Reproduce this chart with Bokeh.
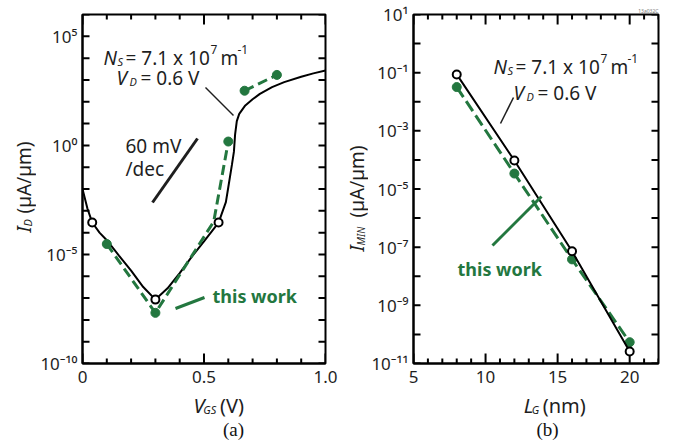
import math

from bokeh.core.properties import value
from bokeh.embed import file_html
from bokeh.layouts import column, row
from bokeh.models import CustomJSTickFormatter, FixedTicker, Label, Range1d
from bokeh.plotting import figure
from bokeh.resources import INLINE

# ---------------------------------------------------------------- data (a)
# simulated transfer curve I_D(V_GS), N_S = 7.1e7 1/m, V_D = 0.6 V
vgs_sim = [0.0, 0.02, 0.04, 0.07, 0.10, 0.15, 0.20, 0.25, 0.30, 0.35, 0.40,
           0.45, 0.50, 0.56, 0.59, 0.60, 0.615, 0.623, 0.628, 0.635, 0.645,
           0.67, 0.70, 0.73, 0.78, 0.83, 0.90, 0.95, 1.00]
id_sim = [1.0e-2, 1.3e-3, 2.9e-4, 1.0e-4, 4.5e-5, 8.9e-6, 1.8e-6, 3.2e-7,
          8.5e-8, 2.8e-7, 1.4e-6, 7.9e-6, 4.0e-5, 2.9e-4, 2.5e-3, 1.2e-2,
          1.3e-1, 5.0e-1, 3.2e0, 1.3e1, 2.8e1, 6.8e1, 1.3e2, 2.3e2, 4.7e2,
          7.9e2, 1.4e3, 2.0e3, 2.7e3]
# marked points on the simulated curve
vgs_sim_pts = [0.04, 0.30, 0.56]
id_sim_pts = [2.9e-4, 8.5e-8, 2.9e-4]
# this work: sub-threshold branch and on-state branch
vgs_work_low = [0.10, 0.30, 0.54, 0.60]
id_work_low = [3.0e-5, 2.1e-8, 3.2e-4, 1.5e0]
vgs_work_high = [0.667, 0.80]
id_work_high = [3.2e2, 1.7e3]
vgs_work_pts = [0.10, 0.30, 0.60, 0.667, 0.80]
id_work_pts = [3.0e-5, 2.1e-8, 1.5e0, 3.2e2, 1.7e3]

a_x_ticks = [0.0, 0.5, 1.0]
a_x_tick_labels = ["0", "0.5", "1.0"]
a_x_minor = [0.1, 0.2, 0.3, 0.4, 0.6, 0.7, 0.8, 0.9]
a_y_decades = list(range(-10, 7))
a_y_labelled = [-10, -5, 0, 5]

# ---------------------------------------------------------------- data (b)
lg_nm = [8, 12, 16, 20]
imin_sim = [8.7e-2, 9.5e-5, 7.2e-8, 2.6e-11]
imin_work = [3.2e-2, 3.4e-5, 3.8e-8, 5.4e-11]

b_x_ticks = [5, 10, 15, 20]
b_x_minor = [6, 7, 8, 9, 11, 12, 13, 14, 16, 17, 18, 19, 21, 22]
b_y_decades = list(range(-11, 2))
b_y_labelled = [-11, -9, -7, -5, -3, -1, 1]

GREEN = "#23773f"
INK = "#1e1e1e"
FONT = "Noto Sans"
SERIF = "Liberation Serif"

SUP_JS = """
const e = Math.round(Math.log10(tick));
if (!shown.includes(e)) { return ""; }
const sup = {"-": "\\u207b", "0": "\\u2070", "1": "\\u00b9", "2": "\\u00b2",
             "3": "\\u00b3", "4": "\\u2074", "5": "\\u2075", "6": "\\u2076",
             "7": "\\u2077", "8": "\\u2078", "9": "\\u2079"};
return "10" + String(e).split("").map(c => sup[c]).join("");
"""


def make_panel(width, height, x_range, y_range, left, right):
    p = figure(width=width, height=height, x_range=x_range, y_range=y_range,
               y_axis_type="log", output_backend="svg", toolbar_location=None,
               min_border_left=left, min_border_right=right,
               min_border_top=14, min_border_bottom=height - 363)
    p.grid.visible = False
    p.outline_line_color = "black"
    p.outline_line_width = 2
    for ax in (p.xaxis[0], p.yaxis[0]):
        ax.axis_line_color = "black"
        ax.axis_line_width = 2
        ax.major_tick_in = 0
        ax.major_tick_out = 0
        ax.minor_tick_in = 0
        ax.minor_tick_out = 0
        ax.major_label_text_font = FONT
        ax.major_label_text_font_size = "17px"
        ax.major_label_text_color = INK
    p.xaxis.major_label_standoff = 7
    p.yaxis.major_label_standoff = 5
    return p


def frame_ticks(p, xs, x_lo, x_hi, ys, y_lo, y_hi, length):
    # inward tick marks on all four sides of the frame
    n, m = len(xs), len(ys)
    kw = dict(length_units="screen", line_color="black", line_width=2)
    p.ray(x=xs, y=[y_lo] * n, length=length, angle=math.pi / 2, **kw)
    p.ray(x=xs, y=[y_hi] * n, length=length, angle=-math.pi / 2, **kw)
    p.ray(x=[x_lo] * m, y=ys, length=7, angle=0.0, **kw)
    p.ray(x=[x_hi] * m, y=ys, length=7, angle=math.pi, **kw)


def converter(x0px, x1px, xlo, xhi, y0px, y1px, dlo, dhi):
    # canvas position -> this panel's data coordinates
    def conv(px, py):
        x = xlo + (px - x0px) * (xhi - xlo) / (x1px - x0px)
        d = dlo + (y1px - py) * (dhi - dlo) / (y1px - y0px)
        return x, 10.0 ** d
    return conv


def put(p, conv, px, py, text, size=19, style="normal", color=INK,
        font=FONT, align="left"):
    x, y = conv(px, py)
    p.add_layout(Label(x=x, y=y, text=text, text_font=font,
                       text_font_size=f"{size}px", text_font_style=style,
                       text_color=color, text_align=align,
                       text_baseline="alphabetic"))


def stroke(p, conv, a, b, color=INK, width=1.5):
    (x0, y0), (x1, y1) = conv(*a), conv(*b)
    p.segment(x0=[x0], y0=[y0], x1=[x1], y1=[y1], line_color=color,
              line_width=width, line_cap="butt")


def text_strip(width, height):
    # a bare canvas for captions, measured in pixels
    p = figure(width=width, height=height, x_range=Range1d(0, width),
               y_range=Range1d(0, height), output_backend="svg",
               toolbar_location=None, min_border=0,
               x_axis_location=None, y_axis_location=None)
    p.grid.visible = False
    p.outline_line_color = None
    return p


def caption(p, x, y_from_top, text, size=19, style="normal", font=FONT,
            angle=0.0, align="left", color=INK):
    y = p.height - y_from_top
    p.text(x=[x], y=[y], text=[text], text_font=value(font),
           text_font_size=value(f"{size}px"), text_font_style=value(style),
           text_color=color, angle=angle, text_align=value(align),
           text_baseline=value("alphabetic"))


# ================================================================= panel (a)
A_LEFT = 36
pa = make_panel(340 - A_LEFT, 393, (0, 1), (1e-10, 1e6), 82 - A_LEFT, 15)
ca = converter(82, 325, 0.0, 1.0, 14, 363, -10, 6)

pa.xaxis.ticker = FixedTicker(ticks=a_x_ticks)
pa.xaxis.major_label_overrides = dict(zip(a_x_ticks, a_x_tick_labels))
pa.yaxis.ticker = FixedTicker(ticks=[10.0 ** k for k in a_y_decades])
pa.yaxis.formatter = CustomJSTickFormatter(args=dict(shown=a_y_labelled),
                                           code=SUP_JS)
a_decades = [10.0 ** k for k in a_y_decades]
frame_ticks(pa, a_x_ticks, 0, 1, a_decades, 1e-10, 1e6, 10)
frame_ticks(pa, a_x_minor, 0, 1, [], 1e-10, 1e6, 5)

pa.line(vgs_sim, id_sim, line_color="black", line_width=2)
pa.line(vgs_work_low, id_work_low, line_color=GREEN, line_width=3,
        line_dash="10 5")
pa.line(vgs_work_high, id_work_high, line_color=GREEN, line_width=3,
        line_dash="10 5")
pa.scatter(vgs_work_pts, id_work_pts, size=9, fill_color=GREEN,
           line_color=GREEN)
pa.scatter(vgs_sim_pts, id_sim_pts, size=8, fill_color="white",
           line_color="black", line_width=2)

put(pa, ca, 103, 57, "N", style="italic")
put(pa, ca, 117, 61, "S", size=11, style="italic")
put(pa, ca, 125, 57, "= 7.1 x 10")
put(pa, ca, 210, 49, "7", size=12)
put(pa, ca, 220, 57, "m")
put(pa, ca, 237, 49, "-1", size=12)
put(pa, ca, 116, 77, "V", style="italic")
put(pa, ca, 129, 81, "D", size=11, style="italic")
put(pa, ca, 140, 77, "= 0.6 V")
stroke(pa, ca, (205, 87), (233, 115))
put(pa, ca, 125, 145, "60 mV")
put(pa, ca, 125, 168, "/dec")
stroke(pa, ca, (152, 202), (197, 138), width=3)
put(pa, ca, 212, 295, "this work", size=18, style="bold", color=GREEN)
stroke(pa, ca, (175, 308), (204, 297), color=GREEN, width=3)

# rotated axis caption: baseline column and its subscript column
ya = text_strip(A_LEFT, 447)
caption(ya, 23, 232, "I", style="italic", angle=math.pi / 2)
caption(ya, 27, 226, "D", size=11, style="italic", angle=math.pi / 2)
caption(ya, 23, 213, "(µA/µm)", angle=math.pi / 2)

xa = text_strip(340 - A_LEFT, 54)
caption(xa, 175 - A_LEFT, 12, "V", style="italic", size=20)
caption(xa, 187 - A_LEFT, 16, "GS", size=11, style="italic")
caption(xa, 208 - A_LEFT, 12, "(V)", size=20)
caption(xa, 225 - A_LEFT, 36, "(a)", size=19, font=SERIF, align="center",
        color="#111111")

# ================================================================= panel (b)
B_LEFT = 28
pb = make_panel(337 - B_LEFT, 393, (5, 22), (1e-11, 1e1), 73 - B_LEFT, 19)
cb = converter(413, 658, 5.0, 22.0, 14, 363, -11, 1)

pb.xaxis.ticker = FixedTicker(ticks=b_x_ticks)
pb.yaxis.ticker = FixedTicker(ticks=[10.0 ** k for k in b_y_decades])
pb.yaxis.formatter = CustomJSTickFormatter(args=dict(shown=b_y_labelled),
                                           code=SUP_JS)
b_decades = [10.0 ** k for k in b_y_decades]
frame_ticks(pb, b_x_ticks, 5, 22, b_decades, 1e-11, 1e1, 10)
frame_ticks(pb, b_x_minor, 5, 22, [], 1e-11, 1e1, 5)
pb.title.text = "13a032C"
pb.title.align = "right"
pb.title.text_font = FONT
pb.title.text_font_size = "5px"
pb.title.text_font_style = "normal"
pb.title.text_color = "#777777"
pb.title.standoff = 1

pb.line(lg_nm, imin_work, line_color=GREEN, line_width=3, line_dash="12 5")
pb.scatter(lg_nm, imin_work, size=9, fill_color=GREEN, line_color=GREEN)
pb.line(lg_nm, imin_sim, line_color="black", line_width=2)
pb.scatter(lg_nm, imin_sim, size=8, fill_color="white", line_color="black",
           line_width=2)

put(pb, cb, 493, 66, "N", style="italic")
put(pb, cb, 507, 70, "S", size=11, style="italic")
put(pb, cb, 515, 66, "= 7.1 x 10")
put(pb, cb, 600, 58, "7", size=12)
put(pb, cb, 610, 66, "m")
put(pb, cb, 627, 58, "-1", size=12)
put(pb, cb, 513, 92, "V", style="italic")
put(pb, cb, 526, 96, "D", size=11, style="italic")
put(pb, cb, 537, 92, "= 0.6 V")
stroke(pb, cb, (513, 97), (500, 123))
put(pb, cb, 457, 268, "this work", size=18, style="bold", color=GREEN)
stroke(pb, cb, (541, 196), (492, 245), color=GREEN, width=3)

yb = text_strip(B_LEFT, 447)
caption(yb, 16, 251, "I", style="italic", angle=math.pi / 2)
caption(yb, 20, 245, "MIN", size=10, style="italic", angle=math.pi / 2)
caption(yb, 16, 217, "(µA/µm)", angle=math.pi / 2)

xb = text_strip(337 - B_LEFT, 54)
caption(xb, 507 - 340 - B_LEFT, 12, "L", style="italic", size=20)
caption(xb, 517 - 340 - B_LEFT, 16, "G", size=11, style="italic")
caption(xb, 531 - 340 - B_LEFT, 12, "(nm)", size=20)
caption(xb, 537 - 340 - B_LEFT, 36, "(b)", size=19, font=SERIF,
        align="center", color="#111111")

layout = row(ya, column(pa, xa), yb, column(pb, xb))
open("out.html", "w").write(file_html(layout, INLINE))
